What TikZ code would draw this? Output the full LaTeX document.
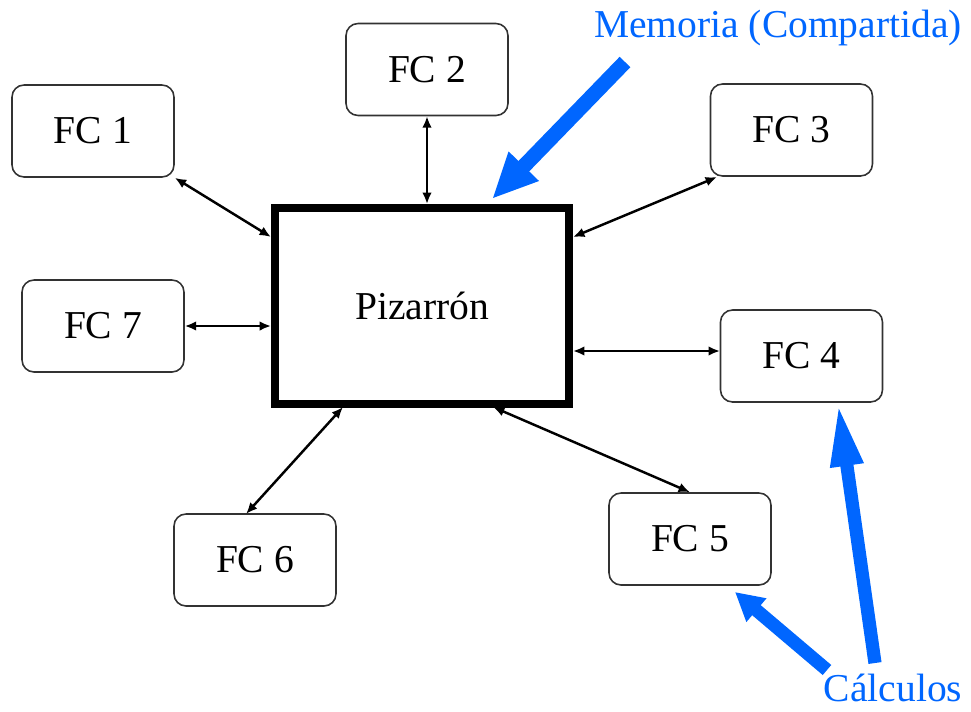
\documentclass[tikz,border=0pt]{standalone}
\usepackage{fontspec}
\setmainfont{Liberation Serif}
\newfontfamily\diagfont{Liberation Serif}
\usetikzlibrary{arrows.meta}
\definecolor{memblue}{RGB}{0,102,255}
\definecolor{boxline}{RGB}{50,50,50}
\begin{document}
\begin{tikzpicture}[x=0.02cm,y=-0.02cm,
  fcbox/.style={draw=boxline, line width=0.9pt, rounded corners=0.24cm,
    minimum width=3.24cm, minimum height=1.84cm, inner sep=0pt,
    font=\diagfont\fontsize{22.5}{26}\selectfont},
  board/.style={draw=black, line width=4.55pt, minimum width=5.88cm,
    minimum height=3.92cm, inner sep=0pt, font=\diagfont\fontsize{22.5}{26}\selectfont},
  link/.style={line width=1.4pt, {Latex[length=6.5pt,width=5.5pt]}-{Latex[length=6.5pt,width=5.5pt]}},
  bluelabel/.style={text=memblue, font=\diagfont\fontsize{22.5}{26}\selectfont, inner sep=0pt},
  fat/.style={draw=memblue, line width=#1}
]
\useasboundingbox (0,0) rectangle (971,711);
% nodes
\node[board] (piz) at (422,306) {Pizarrón};
\node[fcbox] (fc1) at (93,131) {FC 1};
\node[fcbox] (fc2) at (427,69.5) {FC 2};
\node[fcbox] (fc3) at (791.5,130) {FC 3};
\node[fcbox] (fc4) at (801.5,356) {FC 4};
\node[fcbox] (fc5) at (690,539) {FC 5};
\node[fcbox] (fc6) at (255,560) {FC 6};
\node[fcbox] (fc7) at (103,326) {FC 7};
\node[bluelabel] (mem) at (778,28) {Memoria (Compartida)};
\node[bluelabel] (calc) at (893,688) {Cálculos};
% connector end points on the board
\coordinate (p1) at (271,237);
\coordinate (p3) at (573,237);
\coordinate (q3) at (717,177);
\coordinate (p4) at (573,351);
\coordinate (q4) at (720,351);
\coordinate (p5) at (493,407);
\coordinate (p6) at (343,407);
\coordinate (q6) at (246,514);
% black links
\draw[link] (fc1.south east) -- (p1);
\draw[link] (fc2.south) -- (fc2.south |- piz.north);
\draw[link] (q3) -- (p3);
\draw[link] (fc7.east) -- (fc7.east -| piz.west);
\draw[link] (p4) -- (q4);
\draw[link] (p5) -- (fc5.north);
\draw[link] (p6) -- (q6);
% blue pointers
\coordinate (mt) at (625,62);
\coordinate (mh) at (492,199);
\coordinate (c4t) at (875,663);
\coordinate (c4h) at (838,403);
\coordinate (c5t) at (827,670);
\coordinate (c5h) at (735,592);
\draw[fat=8.5pt, -{Triangle[length=26pt,width=22pt]}, memblue] (mt) -- (mh);
\draw[fat=7.5pt, -{Triangle[length=36pt,width=17pt]}, memblue] (c4t) -- (c4h);
\draw[fat=7.5pt, -{Triangle[length=16pt,width=16.5pt]}, memblue] (c5t) -- (c5h);
\end{tikzpicture}
\end{document}
